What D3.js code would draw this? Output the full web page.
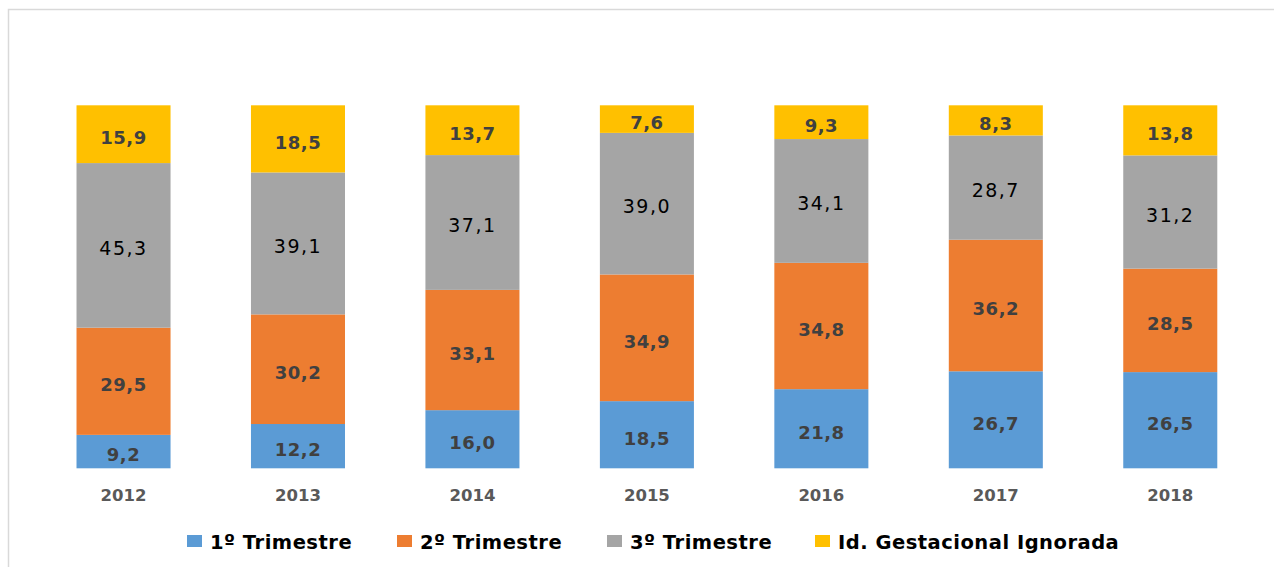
<!DOCTYPE html>
<html>
<head>
<meta charset="utf-8">
<script src="https://cdn.jsdelivr.net/npm/d3@7/dist/d3.min.js"></script>
<style>
  html, body { margin: 0; padding: 0; background: #fff; }
  svg { display: block; }
  text { font-family: "DejaVu Sans", Verdana, sans-serif; }
</style>
</head>
<body>
<svg id="chart" width="1274" height="567"></svg>
<script>
// Years on the category axis
const years = ["2012", "2013", "2014", "2015", "2016", "2017", "2018"];

// Share (%) of each gestational-age group per year
const trim1 = [9.2, 12.2, 16.0, 18.5, 21.8, 26.7, 26.5];
const trim2 = [29.5, 30.2, 33.1, 34.9, 34.8, 36.2, 28.5];
const trim3 = [45.3, 39.1, 37.1, 39.0, 34.1, 28.7, 31.2];
const ignorada = [15.9, 18.5, 13.7, 7.6, 9.3, 8.3, 13.8];

const seriesNames = ["1º Trimestre", "2º Trimestre", "3º Trimestre", "Id. Gestacional Ignorada"];
const seriesColors = ["#5B9BD5", "#ED7D31", "#A5A5A5", "#FFC000"];
const labelStyles = [
  { fill: "#404040", weight: "bold", size: 18, spacing: 0.5, dy: "0.55em" },
  { fill: "#404040", weight: "bold", size: 18, spacing: 0.5, dy: "0.55em" },
  { fill: "#000000", weight: "normal", size: 19, spacing: 1.5, dy: "0.5em" },
  { fill: "#404040", weight: "bold", size: 18, spacing: 0.5, dy: "0.55em" }
];

const keys = ["t1", "t2", "t3", "ig"];
const rows = years.map((y, i) => ({
  year: y, t1: trim1[i], t2: trim2[i], t3: trim3[i], ig: ignorada[i]
}));

const svg = d3.select("#chart");

// Chart-area frame
svg.append("rect")
  .attr("x", 8.5).attr("y", 9.5)
  .attr("width", 1300).attr("height", 600)
  .attr("fill", "none")
  .attr("stroke", "#d9d9d9")
  .attr("stroke-width", 1.5);

const x = d3.scaleBand()
  .domain(years)
  .range([36.3, 1257.5])
  .paddingInner(0.461)
  .paddingOuter(0.2305);

const y = d3.scaleLinear().domain([0, 100]).range([468.3, 105.3]);

// 100% stacked: each year normalised by its own total
const stack = d3.stack().keys(keys).offset(d3.stackOffsetExpand);
const layers = stack(rows);

const fmt = v => d3.format(".1f")(v).replace(".", ",");

const g = svg.append("g");

layers.forEach((layer, si) => {
  const grp = g.append("g");
  grp.selectAll("rect")
    .data(layer)
    .join("rect")
    .attr("x", d => x(d.data.year))
    .attr("width", x.bandwidth())
    .attr("y", d => y(d[1] * 100))
    .attr("height", d => y(d[0] * 100) - y(d[1] * 100))
    .attr("fill", seriesColors[si]);

  const st = labelStyles[si];
  grp.selectAll("text")
    .data(layer)
    .join("text")
    .attr("x", d => x(d.data.year) + x.bandwidth() / 2)
    .attr("y", d => (y(d[0] * 100) + y(d[1] * 100)) / 2)
    .attr("dy", st.dy)
    .attr("text-anchor", "middle")
    .attr("font-size", st.size)
    .attr("font-weight", st.weight)
    .attr("letter-spacing", st.spacing)
    .attr("fill", st.fill)
    .text(d => fmt(d.data[keys[si]]));
});

// Category axis labels
const xAxis = d3.axisBottom(x).tickSize(0).tickPadding(0);
const axisG = svg.append("g")
  .attr("transform", "translate(0,489)")
  .call(xAxis);
axisG.select(".domain").remove();
axisG.selectAll("text")
  .attr("font-family", "DejaVu Sans, Verdana, sans-serif")
  .attr("font-size", 16.5)
  .attr("font-weight", "bold")
  .attr("fill", "#595959")
  .attr("dy", "0.71em");

// Legend
const legendX = [187, 397, 607, 815];
const legend = svg.append("g");
seriesNames.forEach((name, i) => {
  legend.append("rect")
    .attr("x", legendX[i]).attr("y", 535)
    .attr("width", 15).attr("height", 12)
    .attr("fill", seriesColors[i]);
  legend.append("text")
    .attr("x", legendX[i] + 23)
    .attr("y", 542)
    .attr("dy", "0.36em")
    .attr("font-size", 19.5)
    .attr("font-weight", "bold")
    .attr("letter-spacing", 0.5)
    .attr("fill", "#000")
    .text(name);
});
</script>
</body>
</html>
